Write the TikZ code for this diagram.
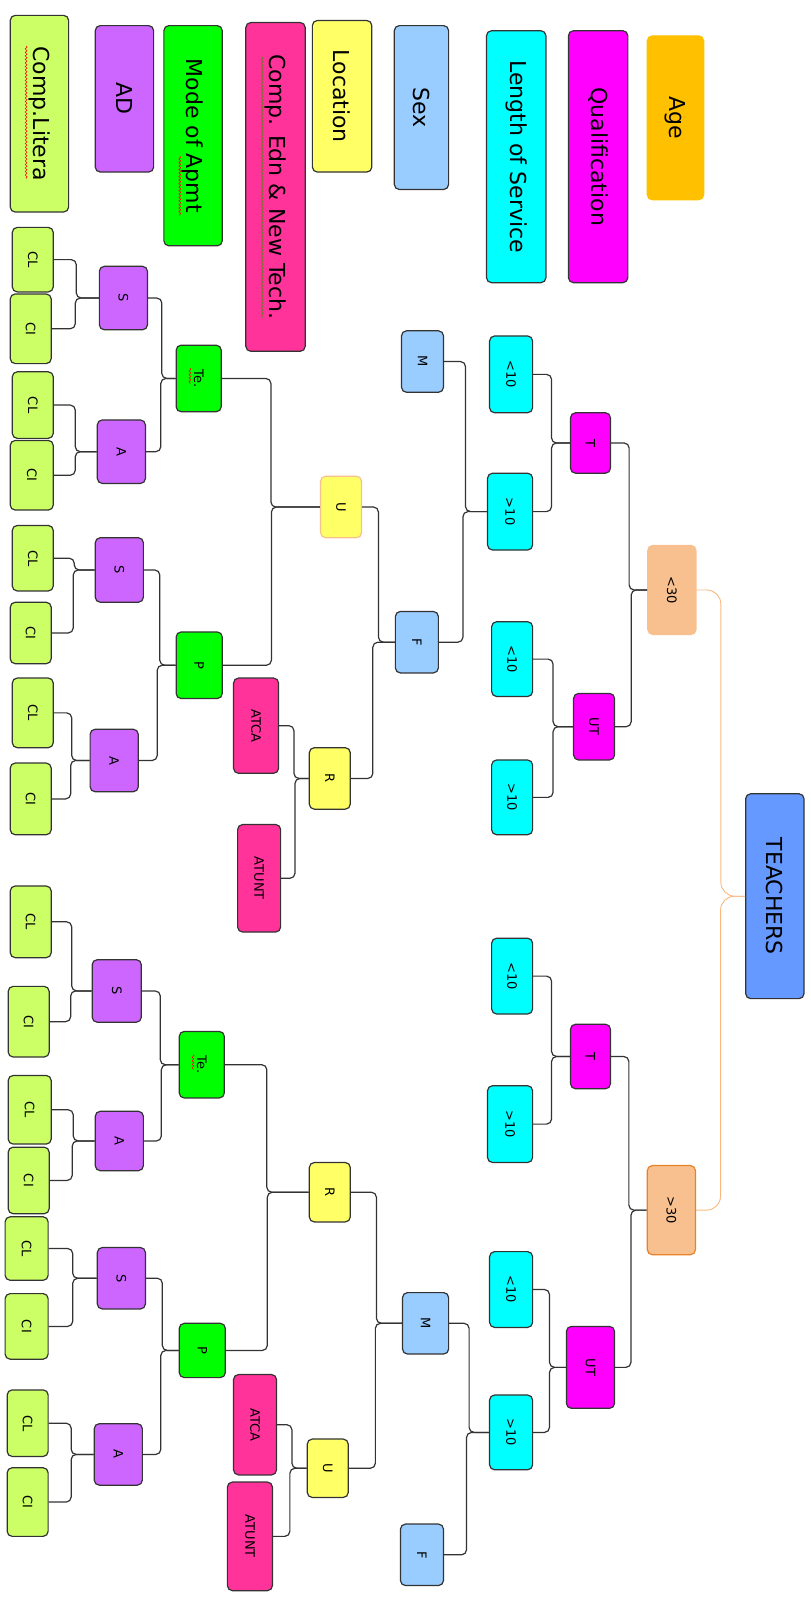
\documentclass[tikz,border=0pt]{standalone}
\usepackage{fontspec}
\setmainfont{DejaVu Sans}
\usepackage{graphicx}
\usetikzlibrary{calc,decorations.pathmorphing}
\definecolor{clime}{HTML}{CCFF66}
\definecolor{cpurple}{HTML}{CC66FF}
\definecolor{cgreen}{HTML}{00FF00}
\definecolor{cpink}{HTML}{FF3399}
\definecolor{cyellow}{HTML}{FFFF66}
\definecolor{cblue}{HTML}{99CCFF}
\definecolor{ccyan}{HTML}{00FFFF}
\definecolor{cmag}{HTML}{FF00FF}
\definecolor{cage}{HTML}{FFC000}
\definecolor{cagen}{HTML}{F8C08F}
\definecolor{cageb}{HTML}{E8822A}
\definecolor{cteach}{HTML}{6699FF}
\definecolor{corline}{HTML}{F8B880}
\definecolor{cborder}{HTML}{333333}
\definecolor{cgram}{HTML}{6A7A20}
\newcommand{\rt}[1]{\rotatebox{-90}{#1}}
\newcommand{\cn}[3][conn]{\draw[#1] let \p1=(#2.west), \p2=(#3.east) in (#2.west) -- ({(\x1+\x2)/2},\y1) -- ({(\x1+\x2)/2},\y2) -- (#3.east);}
\newcommand{\sq}[5][squig]{\draw[#1] ($(#2.center)+(#3,#4)$) -- ($(#2.center)+(#3,#5)$);}
\begin{document}
\begin{tikzpicture}[x=1.024pt,y=-1.024pt,
  nd/.style={draw=cborder, line width=1.2pt, rounded corners=5pt, inner sep=0pt, font=\fontsize{13}{13}\selectfont},
  lg/.style={nd, font=\fontsize{22}{22}\selectfont},
  sz/.style 2 args={minimum width=#1*1.024pt, minimum height=#2*1.024pt},
  conn/.style={draw=cborder, line width=1.2pt, rounded corners=5pt},
  oconn/.style={draw=corline, line width=0.9pt, rounded corners=14pt},
  squig/.style={draw=red, line width=0.6pt, decorate, decoration={snake, amplitude=0.9pt, segment length=3.5pt}},
  gsquig/.style={draw=cgram, line width=0.7pt, decorate, decoration={snake, amplitude=0.9pt, segment length=3.5pt}}]
\useasboundingbox (0,0) rectangle (791,1568);
% legend
\node[lg,fill=clime,sz={57}{192}] (Lcl) at (38.5,111) {\rt{Comp.Litera}};
\node[lg,fill=cpurple,sz={57}{143}] (Lad) at (121.5,96.5) {\rt{AD}};
\node[lg,fill=cgreen,sz={57}{215}] (Lmode) at (188.5,132.5) {\rt{Mode of Apmt}};
\node[lg,fill=cpink,sz={58}{321}] (Ledn) at (269,182.5) {\rt{Comp. Edn \& New Tech.}};
\node[lg,fill=cyellow,sz={58}{148}] (Lloc) at (334,94) {\rt{Location}};
\node[lg,fill=cblue,sz={53}{160}] (Lsex) at (411.5,105) {\rt{Sex}};
\node[lg,fill=ccyan,sz={58}{246}] (Llos) at (504,153) {\rt{Length of Service}};
\node[lg,fill=cmag,sz={58}{246}] (Lq) at (584,153) {\rt{Qualification}};
\node[lg,fill=cage,draw=cage,sz={55}{160}] (Lage) at (659.5,115) {\rt{Age}};
% root
\node[lg,fill=cteach,sz={57}{200}] (T) at (756.5,875) {\rt{TEACHERS}};
% age
\node[nd,fill=cagen,draw=cagen,sz={47}{87}] (g1) at (656,576) {\rt{<30}};
\node[nd,fill=cagen,draw=cageb,sz={47}{87}] (g2) at (655.5,1181.5) {\rt{>30}};
% qualification
\node[nd,fill=cmag,sz={39}{59}] (q1) at (576.5,432.5) {\rt{T}};
\node[nd,fill=cmag,sz={40}{65}] (q2) at (580,709.5) {\rt{UT}};
\node[nd,fill=cmag,sz={39}{63}] (q3) at (576.5,1031.5) {\rt{T}};
\node[nd,fill=cmag,sz={47}{80}] (q4) at (576.5,1335) {\rt{UT}};
% length of service
\node[nd,fill=ccyan,sz={42}{75}] (l1) at (499,365.5) {\rt{<10}};
\node[nd,fill=ccyan,sz={44}{75}] (l2) at (498,499.5) {\rt{>10}};
\node[nd,fill=ccyan,sz={40}{73}] (l3) at (500,643.5) {\rt{<10}};
\node[nd,fill=ccyan,sz={40}{73}] (l4) at (500,778.5) {\rt{>10}};
\node[nd,fill=ccyan,sz={40}{74}] (l5) at (500,953) {\rt{<10}};
\node[nd,fill=ccyan,sz={44}{75}] (l6) at (498,1097.5) {\rt{>10}};
\node[nd,fill=ccyan,sz={42}{74}] (l7) at (499,1259) {\rt{<10}};
\node[nd,fill=ccyan,sz={42}{73}] (l8) at (499,1398.5) {\rt{>10}};
% sex
\node[nd,fill=cblue,sz={41}{60}] (s1) at (412.5,353) {\rt{M}};
\node[nd,fill=cblue,sz={42}{60}] (s2) at (407,627) {\rt{F}};
\node[nd,fill=cblue,sz={45}{60}] (s3) at (415.5,1292) {\rt{M}};
\node[nd,fill=cblue,sz={42}{60}] (s4) at (412,1518) {\rt{F}};
% location
\node[nd,fill=cyellow,draw=cagen,sz={40}{60}] (c1) at (333,495) {\rt{U}};
\node[nd,fill=cyellow,sz={40}{60}] (c2) at (322,760) {\rt{R}};
\node[nd,fill=cyellow,sz={40}{58}] (c3) at (322,1164) {\rt{R}};
\node[nd,fill=cyellow,sz={40}{57}] (c4) at (320,1433.5) {\rt{U}};
% comp edn
\node[nd,fill=cpink,sz={44}{93}] (e1) at (250,708.5) {\rt{ATCA}};
\node[nd,fill=cpink,sz={42}{105}] (e2) at (253,857.5) {\rt{ATUNT}};
\node[nd,fill=cpink,sz={42}{98}] (e3) at (249,1391) {\rt{ATCA}};
\node[nd,fill=cpink,sz={44}{106}] (e4) at (244,1500) {\rt{ATUNT}};
% mode
\node[nd,fill=cgreen,sz={44}{65}] (m1) at (194,369.5) {\rt{Te.}};
\node[nd,fill=cgreen,sz={45}{65}] (m2) at (194.5,649.5) {\rt{P}};
\node[nd,fill=cgreen,sz={44}{65}] (m3) at (197,1039.5) {\rt{Te.}};
\node[nd,fill=cgreen,sz={45}{53}] (m4) at (197.5,1318.5) {\rt{P}};
% AD
\node[nd,fill=cpurple,sz={47}{62}] (a1) at (120.5,291) {\rt{S}};
\node[nd,fill=cpurple,sz={47}{62}] (a2) at (118.5,441) {\rt{A}};
\node[nd,fill=cpurple,sz={47}{63}] (a3) at (116.5,556.5) {\rt{S}};
\node[nd,fill=cpurple,sz={47}{61}] (a4) at (111.5,742.5) {\rt{A}};
\node[nd,fill=cpurple,sz={48}{61}] (a5) at (114,967.5) {\rt{S}};
\node[nd,fill=cpurple,sz={47}{58}] (a6) at (116.5,1114) {\rt{A}};
\node[nd,fill=cpurple,sz={47}{60}] (a7) at (118.5,1248) {\rt{S}};
\node[nd,fill=cpurple,sz={47}{60}] (a8) at (115.5,1420) {\rt{A}};
% comp literacy
\node[nd,fill=clime,sz={40}{63}] (k1) at (32,253.5) {\rt{CL}};
\node[nd,fill=clime,sz={40}{68}] (k2) at (30,321) {\rt{CI}};
\node[nd,fill=clime,sz={40}{65}] (k3) at (32,395.5) {\rt{CL}};
\node[nd,fill=clime,sz={42}{68}] (k4) at (31,464) {\rt{CI}};
\node[nd,fill=clime,sz={40}{64}] (k5) at (32,545) {\rt{CL}};
\node[nd,fill=clime,sz={40}{60}] (k6) at (30,618) {\rt{CI}};
\node[nd,fill=clime,sz={40}{68}] (k7) at (32,696) {\rt{CL}};
\node[nd,fill=clime,sz={40}{70}] (k8) at (30,780) {\rt{CI}};
\node[nd,fill=clime,sz={40}{70}] (k9) at (30,900) {\rt{CL}};
\node[nd,fill=clime,sz={40}{69}] (k10) at (28,997.5) {\rt{CI}};
\node[nd,fill=clime,sz={42}{67}] (k11) at (29,1083.5) {\rt{CL}};
\node[nd,fill=clime,sz={40}{65}] (k12) at (28,1152.5) {\rt{CI}};
\node[nd,fill=clime,sz={42}{62}] (k13) at (26,1219) {\rt{CL}};
\node[nd,fill=clime,sz={42}{64}] (k14) at (26,1295) {\rt{CI}};
\node[nd,fill=clime,sz={40}{65}] (k15) at (27,1389.5) {\rt{CL}};
\node[nd,fill=clime,sz={40}{67}] (k16) at (27,1466.5) {\rt{CI}};
% spell-check squiggles
\sq{Lcl}{-13}{-66}{64}
\sq{Lmode}{-13}{20}{78}
\sq[gsquig]{Ledn}{-13}{-127}{128}
\sq{m1}{-8.5}{-10}{5}
\sq{m3}{-8.5}{-10}{5}
% connectors
\cn[oconn]{T}{g1}\cn[oconn]{T}{g2}
\cn{g1}{q1}\cn{g1}{q2}\cn{g2}{q3}\cn{g2}{q4}
\cn{q1}{l1}\cn{q1}{l2}\cn{q2}{l3}\cn{q2}{l4}
\cn{q3}{l5}\cn{q3}{l6}\cn{q4}{l7}\cn{q4}{l8}
\cn{l2}{s1}\cn{l2}{s2}\cn{l8}{s3}\cn{l8}{s4}
\cn{s2}{c1}\cn{s2}{c2}\cn{s3}{c3}\cn{s3}{c4}
\cn{c2}{e1}\cn{c2}{e2}\cn{c4}{e3}\cn{c4}{e4}
\cn{c1}{m1}\cn{c1}{m2}\cn{c3}{m3}\cn{c3}{m4}
\cn{m1}{a1}\cn{m1}{a2}\cn{m2}{a3}\cn{m2}{a4}
\cn{m3}{a5}\cn{m3}{a6}\cn{m4}{a7}\cn{m4}{a8}
\cn{a1}{k1}\cn{a1}{k2}\cn{a2}{k3}\cn{a2}{k4}
\cn{a3}{k5}\cn{a3}{k6}\cn{a4}{k7}\cn{a4}{k8}
\cn{a5}{k9}\cn{a5}{k10}\cn{a6}{k11}\cn{a6}{k12}
\cn{a7}{k13}\cn{a7}{k14}\cn{a8}{k15}\cn{a8}{k16}
\end{tikzpicture}
\end{document}
